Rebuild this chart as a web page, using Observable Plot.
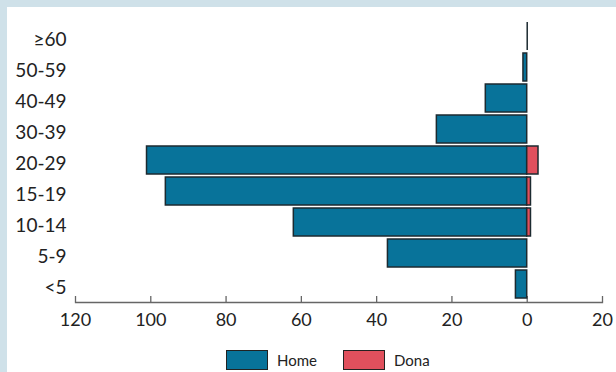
<!DOCTYPE html>
<html>
<head>
<meta charset="utf-8">
<script src="https://cdn.jsdelivr.net/npm/d3@7"></script>
<script src="https://cdn.jsdelivr.net/npm/@observablehq/plot@0.6"></script>
<style>
  html, body { margin: 0; padding: 0; }
  body { width: 616px; height: 372px; background: #cfe1e9; position: relative; overflow: hidden; font-family: Lato, "Noto Sans", sans-serif; }
  #panel { position: absolute; left: 7px; top: 7px; width: 609px; height: 365px; background: #fff; }
  #chart { position: absolute; left: 0; top: 0; }
  .legend { position: absolute; top: 350px; height: 20px; display: flex; align-items: center; font-size: 15px; color: #222; }
  .sw { width: 40px; height: 18px; border: 1px solid #222; margin-right: 9px; }
</style>
</head>
<body>
<div id="panel"></div>
<div id="chart"></div>
<div class="legend" style="left:226px"><div class="sw" style="background:#08739a"></div>Home</div>
<div class="legend" style="left:343px"><div class="sw" style="background:#e0505d"></div>Dona</div>
<script>
const ages = ["≥60", "50-59", "40-49", "30-39", "20-29", "15-19", "10-14", "5-9", "<5"];
const home = [0, 1, 11, 24, 101, 96, 62, 37, 3];
const dona = [0, 0, 0, 0, 3, 1, 1, 0, 0];
const xTicks = [-120, -100, -80, -60, -40, -20, 0, 20];

const rows = ages.map((a, i) => ({age: a, home: home[i], dona: dona[i]}));
const empty = rows.filter(d => d.home === 0 && d.dona === 0);

const chart = Plot.plot({
  width: 616,
  height: 335,
  marginLeft: 75,
  marginRight: 14,
  marginTop: 19,
  marginBottom: 33,
  style: {fontFamily: "Lato, 'Noto Sans', sans-serif", fontSize: "18px", color: "#222", background: "transparent"},
  x: {domain: [-120, 20]},
  y: {domain: ages, padding: 0.087, label: null},
  marks: [
    Plot.frame({anchor: "bottom", stroke: "#666", strokeWidth: 1.3}),
    Plot.ruleX(xTicks, {x: d => d, insetTop: 277, stroke: "#666", strokeWidth: 1.3}),
    Plot.axisX({ticks: xTicks, tickSize: 0, tickPadding: 11, tickFormat: d => Math.abs(d), label: null, fontSize: 18}),
    Plot.axisY({tickSize: 0, tickPadding: 9, label: null, fontSize: 19, dy: 3}),
    Plot.barX(rows.filter(d => d.home > 0), {y: "age", x1: 0, x2: d => -d.home, fill: "#08739a", stroke: "#1c2a30", strokeWidth: 1.5}),
    Plot.barX(rows.filter(d => d.dona > 0), {y: "age", x1: 0, x2: d => d.dona, fill: "#e0505d", stroke: "#1c2a30", strokeWidth: 1.5}),
    Plot.tickX(empty, {y: "age", x: d => d.home, stroke: "#1c2a30", strokeWidth: 1.5})
  ]
});
document.getElementById("chart").append(chart);
</script>
</body>
</html>
